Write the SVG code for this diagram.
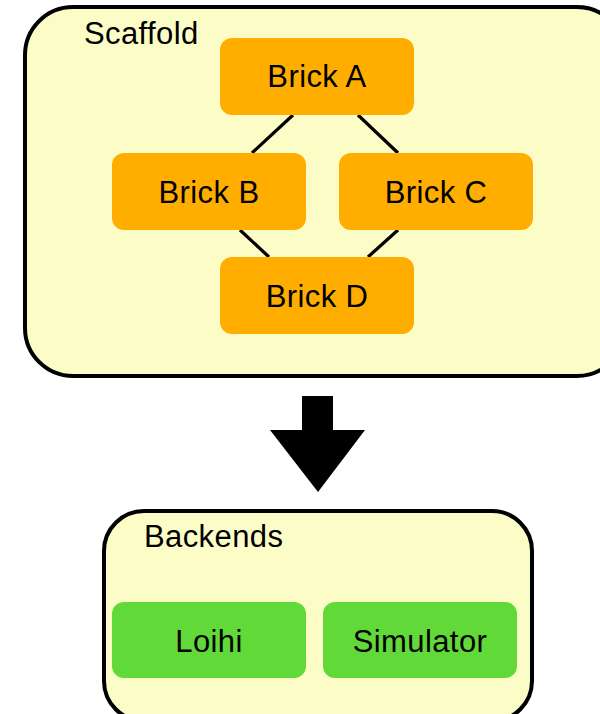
<svg xmlns="http://www.w3.org/2000/svg" width="600" height="714" viewBox="0 0 600 714">
  <style>
    .container { fill: #fcfcc6; stroke: #000; stroke-width: 4; }
    .brick { fill: #ffae00; }
    .backend { fill: #60d939; }
    .link { stroke: #000; stroke-width: 3.2; fill: none; }
    text { font-family: "Liberation Sans", Arial, sans-serif; font-size: 31px; letter-spacing: 0.4px; fill: #000; }
    .label { text-anchor: middle; }
  </style>

  <!-- Scaffold container -->
  <g id="scaffold">
    <rect class="container" x="25" y="7" width="600" height="369" rx="48" ry="48"/>
    <text x="84" y="44">Scaffold</text>
  </g>

  <!-- Connectors between bricks -->
  <g id="connectors">
    <line class="link" x1="293" y1="115" x2="252" y2="153"/>
    <line class="link" x1="358" y1="115" x2="398" y2="153"/>
    <line class="link" x1="240" y1="230" x2="269" y2="257"/>
    <line class="link" x1="398" y1="230" x2="368" y2="257"/>
  </g>

  <g id="brick-a">
    <rect class="brick" x="220" y="38" width="194" height="77" rx="12"/>
    <text class="label" x="317" y="87">Brick A</text>
  </g>
  <g id="brick-b">
    <rect class="brick" x="112" y="153" width="194" height="77" rx="12"/>
    <text class="label" x="209" y="203">Brick B</text>
  </g>
  <g id="brick-c">
    <rect class="brick" x="339" y="153" width="194" height="77" rx="12"/>
    <text class="label" x="436" y="203">Brick C</text>
  </g>
  <g id="brick-d">
    <rect class="brick" x="220" y="257" width="194" height="77" rx="12"/>
    <text class="label" x="317" y="307">Brick D</text>
  </g>

  <!-- Block arrow from scaffold to backends -->
  <g id="flow-arrow">
    <polygon fill="#000" points="302,396 333,396 333,430 365,430 318,492 270,430 302,430"/>
  </g>

  <!-- Backends container -->
  <g id="backends">
    <rect class="container" x="104" y="511" width="428" height="210" rx="40" ry="40"/>
    <text x="144" y="547">Backends</text>
  </g>
  <g id="loihi">
    <rect class="backend" x="112" y="602" width="194" height="76" rx="12"/>
    <text class="label" x="209" y="652">Loihi</text>
  </g>
  <g id="simulator">
    <rect class="backend" x="323" y="602" width="194" height="76" rx="12"/>
    <text class="label" x="420" y="652">Simulator</text>
  </g>
</svg>
